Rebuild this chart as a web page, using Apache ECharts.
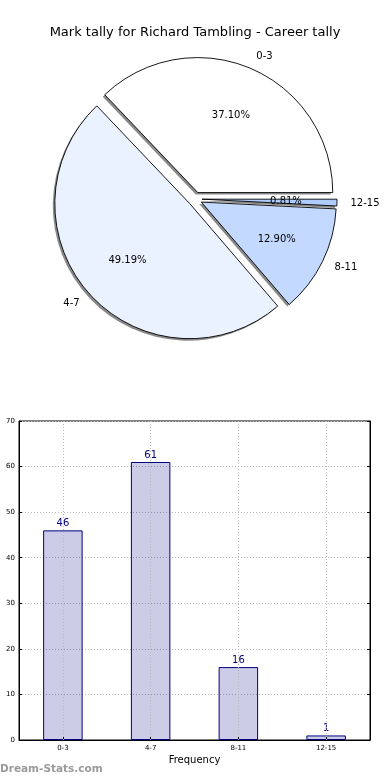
<!DOCTYPE html>
<html>
<head>
<meta charset="utf-8">
<script src="https://cdn.jsdelivr.net/npm/echarts@6/dist/echarts.min.js"></script>
<style>
html,body{margin:0;padding:0;background:#fff;}
#c{width:390px;height:780px;}
</style>
</head>
<body>
<div id="c"></div>
<script>
var titleText = 'Mark tally for Richard Tambling - Career tally';
var categories = ['0-3', '4-7', '8-11', '12-15'];
var counts = [46, 61, 16, 1];
var pieColors = ['#ffffff', '#ebf2ff', '#c4d9ff', '#afccff'];
var yTicks = [0, 10, 20, 30, 40, 50, 60, 70];
var xName = 'Frequency';
var watermark = 'Dream-Stats.com';

var FONT = 'DejaVu Sans';
var R = 135;
var CENTER = [195, 199];
var SHADOW_CENTER = [CENTER[0] - 2, CENTER[1] + 2];

var pieMain = categories.map(function (c, i) {
  return { name: c, value: counts[i], selected: true,
    itemStyle: { color: pieColors[i] } };
});
var pieLab = categories.map(function (c, i) {
  return { name: c, value: counts[i], selected: true };
});
var pieShadow = categories.map(function (c, i) {
  return { name: c, value: counts[i], selected: true };
});

var chart = echarts.init(document.getElementById('c'), null, { renderer: 'canvas' });
chart.setOption({
  animation: false,
  backgroundColor: '#ffffff',
  title: {
    text: titleText, left: 'center', top: 21,
    textStyle: { fontFamily: FONT, fontSize: 13, fontWeight: 'normal', color: '#000' }
  },
  graphic: [{
    type: 'text', left: 0, top: 764,
    style: { text: watermark, fontFamily: FONT, fontSize: 10.5, fontWeight: 'bold', fill: '#9a9a9a' }
  }],
  grid: {
    left: 19, right: 20, top: 421, bottom: 40,
    show: true, borderColor: '#000', borderWidth: 1, backgroundColor: 'transparent'
  },
  xAxis: {
    type: 'category', data: categories,
    name: xName, nameLocation: 'middle', nameGap: 15,
    nameTextStyle: { fontFamily: FONT, fontSize: 10, color: '#000' },
    axisLine: { show: true, lineStyle: { color: '#000' } },
    axisTick: { show: true, inside: true, alignWithLabel: true, length: 3, lineStyle: { color: '#000' } },
    axisLabel: { fontFamily: FONT, fontSize: 7, color: '#000', margin: 5 },
    splitLine: { show: false }
  },
  yAxis: [{
    type: 'value', min: yTicks[0], max: yTicks[yTicks.length - 1], interval: 10,
    axisLine: { show: true, lineStyle: { color: '#000' } },
    axisTick: { show: true, inside: true, length: 3, lineStyle: { color: '#000' } },
    axisLabel: { fontFamily: FONT, fontSize: 7, color: '#000', margin: 4 },
    splitLine: { show: true, lineStyle: { color: '#b8b8b8', type: [1, 2], width: 1 } }
  }, {
    type: 'value', position: 'right', min: yTicks[0], max: yTicks[yTicks.length - 1], interval: 10,
    axisLine: { show: true, lineStyle: { color: '#000' } },
    axisTick: { show: true, inside: true, length: 3, lineStyle: { color: '#000' } },
    axisLabel: { show: false },
    splitLine: { show: false }
  }],
  series: [{
    type: 'pie', z: 1,
    center: SHADOW_CENTER, radius: R,
    startAngle: 0, clockwise: false,
    selectedMode: 'multiple', selectedOffset: 7,
    avoidLabelOverlap: false, silent: true,
    emphasis: { disabled: true },
    itemStyle: { color: '#8a8a8a', borderWidth: 0 },
    label: { show: false }, labelLine: { show: false },
    data: pieShadow
  }, {
    type: 'pie', z: 2,
    center: CENTER, radius: R,
    startAngle: 0, clockwise: false,
    selectedMode: 'multiple', selectedOffset: 7,
    avoidLabelOverlap: false,
    emphasis: { disabled: true },
    itemStyle: { borderColor: '#000', borderWidth: 0.9 },
    label: {
      show: true, position: 'outside', formatter: '{b}',
      fontFamily: FONT, fontSize: 10, color: '#000', distanceToLabelLine: 0
    },
    labelLine: { show: false, length: R * 0.1, length2: 0 },
    data: pieMain
  }, {
    type: 'pie', z: 3,
    center: CENTER, radius: [R * 0.2, R],
    startAngle: 0, clockwise: false,
    selectedMode: 'multiple', selectedOffset: 7,
    avoidLabelOverlap: false, silent: true,
    emphasis: { disabled: true },
    itemStyle: { color: 'rgba(0,0,0,0)', borderWidth: 0 },
    label: {
      show: true, position: 'inside',
      formatter: function (p) { return p.percent.toFixed(2) + '%'; },
      fontFamily: FONT, fontSize: 10, color: '#000'
    },
    labelLine: { show: false },
    data: pieLab
  }, {
    type: 'bar',
    data: counts,
    barWidth: '45%',
    itemStyle: { color: 'rgba(0,0,128,0.2)', borderColor: '#000080', borderWidth: 1 },
    label: { show: true, position: 'top', distance: 2, fontFamily: FONT, fontSize: 10, color: '#000080' },
    emphasis: { disabled: true },
    markLine: {
      silent: true, symbol: 'none',
      label: { show: false },
      lineStyle: { color: '#b8b8b8', type: [1, 2], width: 1 },
      data: categories.map(function (c) { return { xAxis: c }; })
    }
  }]
});
</script>
</body>
</html>
